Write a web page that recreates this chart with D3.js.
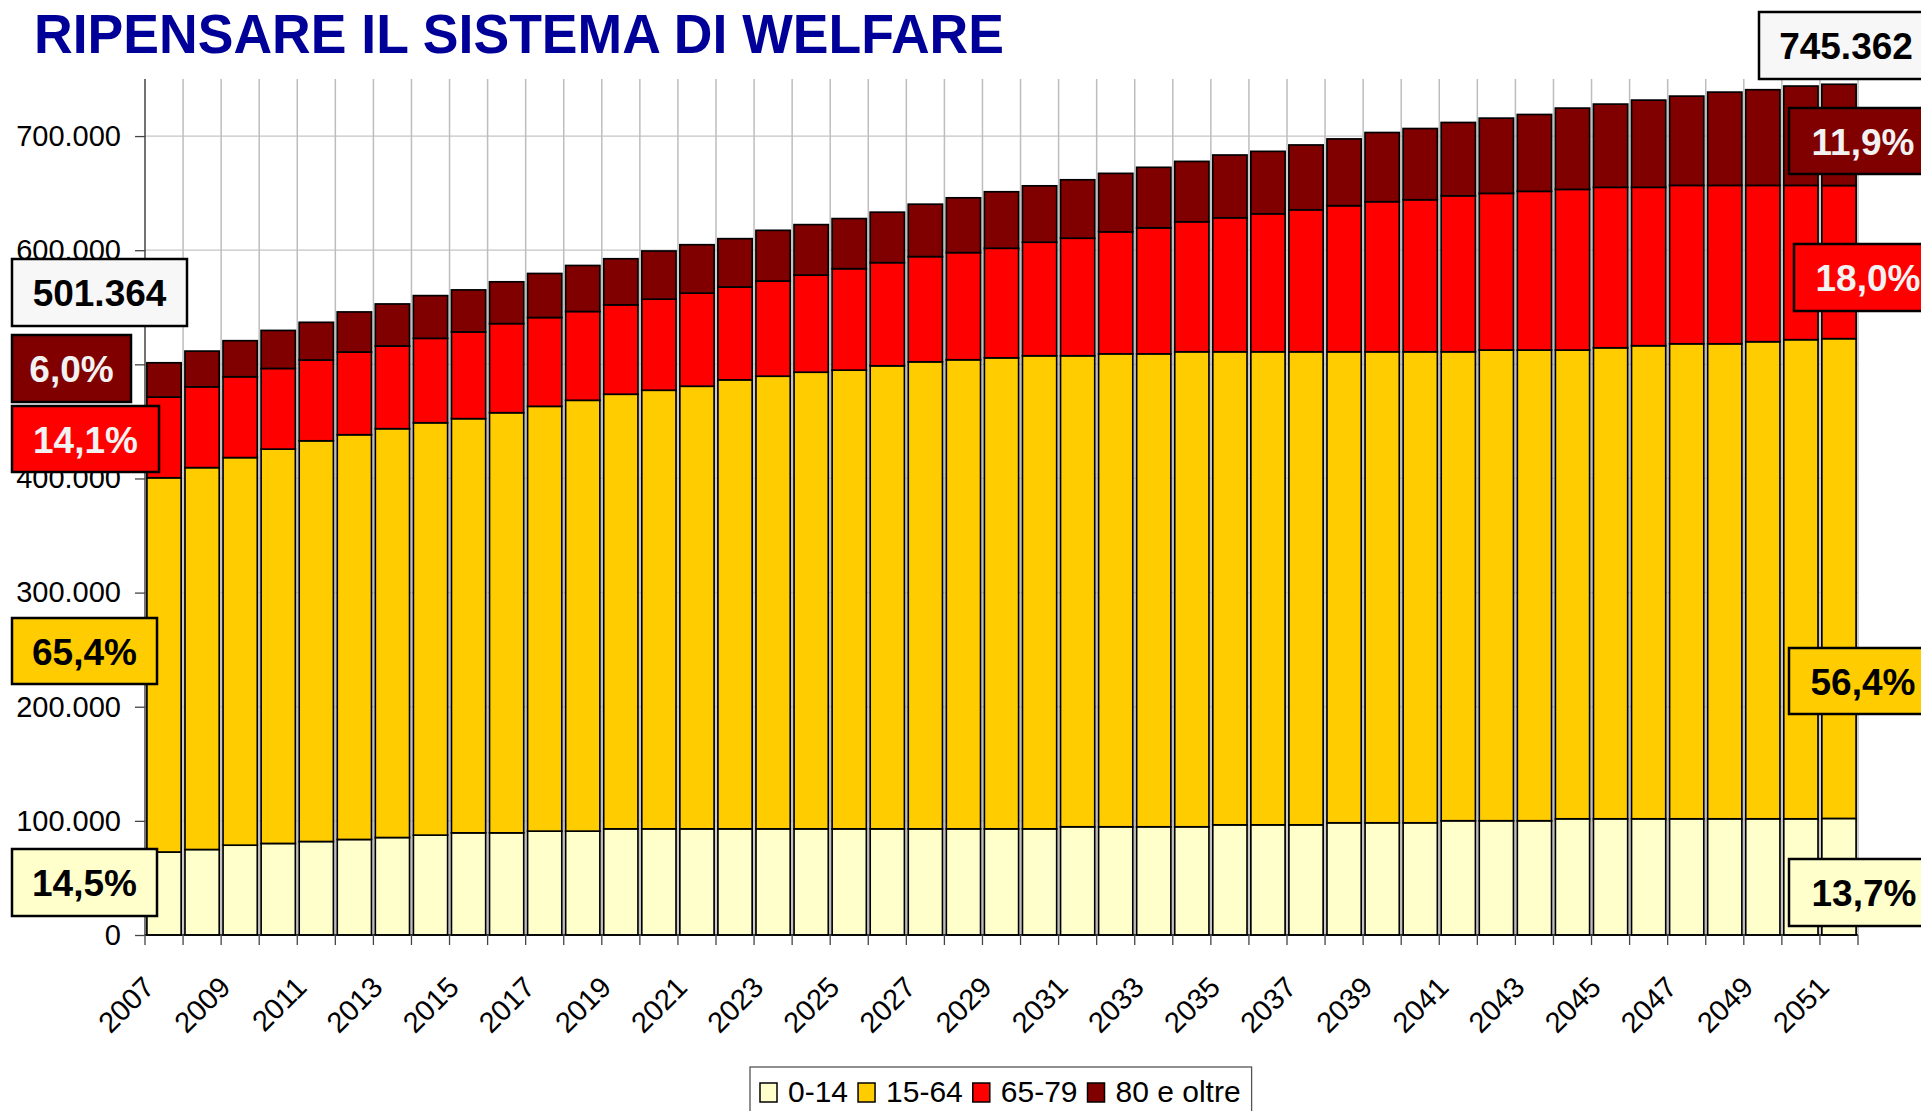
<!DOCTYPE html>
<html>
<head>
<meta charset="utf-8">
<script src="https://cdn.jsdelivr.net/npm/d3@7"></script>
<style>
html,body{margin:0;padding:0;background:#fff;overflow:hidden;}
svg{display:block;font-family:"Liberation Sans",Arial,sans-serif;}
</style>
</head>
<body>
<svg id="chart" width="1921" height="1111"></svg>
<script>
const years = [2007,2008,2009,2010,2011,2012,2013,2014,2015,2016,2017,2018,2019,2020,2021,2022,2023,2024,2025,2026,2027,2028,2029,2030,2031,2032,2033,2034,2035,2036,2037,2038,2039,2040,2041,2042,2043,2044,2045,2046,2047,2048,2049,2050,2051];
const seriesNames = ["0-14","15-64","65-79","80 e oltre"];
const seriesColors = ["#FFFFCC","#FFCC00","#FF0000","#800000"];
const labelTextColors = ["#000","#000","#f2f2f2","#f2f2f2"];
const age0_14 = [72698,74900,78700,80200,81900,83700,85400,87500,89500,89500,91000,91000,93000,93000,93000,93000,93000,93000,93000,93000,93000,93000,93000,93000,94800,94800,94800,94800,96500,96500,96500,98300,98300,98300,100100,100100,100100,101800,101800,101800,101800,101800,101800,101800,102115];
const age15_64 = [327892,334600,339600,345500,351100,354600,358200,361300,362900,368100,372200,377500,380800,384300,387800,393400,396600,400100,401900,405700,409200,411000,412700,414500,412700,414400,414400,416200,414500,414500,414500,412700,412700,412700,410900,412400,412400,410700,412700,414500,416200,416200,418000,419800,420384];
const age65_79 = [70692,70800,70800,70700,70800,72500,72500,74000,76000,78100,77800,77800,78300,79800,81600,81300,83400,85100,88900,90400,92200,93900,96000,99500,103000,106900,110400,113900,117400,120900,124400,128000,131500,133200,136700,137300,139100,140800,140600,138800,138800,138800,137000,135200,134165];
const age80plus = [30082,31300,31600,33300,33000,35100,36800,37400,36800,36600,38600,40300,40400,42200,42400,42400,44400,44200,43900,44200,45900,48000,49500,49400,51200,51200,53000,52900,55000,54700,56800,58500,60600,62400,64200,65900,67300,71200,72900,76400,78200,81700,83800,87000,88698];
const yTicks = [0,100000,200000,300000,400000,500000,600000,700000];
const xLabelYears = [2007,2009,2011,2013,2015,2017,2019,2021,2023,2025,2027,2029,2031,2033,2035,2037,2039,2041,2043,2045,2047,2049,2051];
const titleText = "RIPENSARE IL SISTEMA DI WELFARE";

const series = [age0_14, age15_64, age65_79, age80plus];
const table = years.map((y,i)=>{const o={year:y}; seriesNames.forEach((n,k)=>o[n]=series[k][i]); return o;});

const it = d3.formatLocale({decimal:",",thousands:".",grouping:[3],currency:["€",""]});
const fmtInt = it.format(",d");
const fmtPct = it.format(".1%");

const svg = d3.select("#chart");
const L = 145, R = 1858, T = 79, B = 935;
const x = d3.scaleBand().domain(years).range([L,R]).paddingInner(0.1).paddingOuter(0.05);
const y = d3.scaleLinear().domain([0,750000]).range([B,T]);
const step = x.step();
const boundary = yr => x(yr) - step*x.paddingInner()/2;

// gridlines
const grid = svg.append("g");
grid.selectAll("line.h").data(yTicks.filter(d=>d>0)).join("line")
  .attr("x1",L).attr("x2",R).attr("y1",d=>y(d)).attr("y2",d=>y(d))
  .attr("stroke","#c4c4c4").attr("stroke-width",1.3);
const bounds = years.map(boundary).concat([R]);
grid.selectAll("line.v").data(bounds.slice(1)).join("line")
  .attr("x1",d=>d).attr("x2",d=>d).attr("y1",T).attr("y2",B)
  .attr("stroke","#bdbdbd").attr("stroke-width",1.5);

// bars
const stack = d3.stack().keys(seriesNames);
const stacked = stack(table);
svg.append("g").selectAll("g").data(stacked).join("g")
  .attr("fill",(d,i)=>seriesColors[i])
  .selectAll("rect").data(d=>d).join("rect")
  .attr("x",d=>x(d.data.year)).attr("width",x.bandwidth())
  .attr("y",d=>y(d[1])).attr("height",d=>y(d[0])-y(d[1]))
  .attr("stroke","#000").attr("stroke-width",1.7);

// y axis
const yAxis = d3.axisLeft(y).tickValues(yTicks).tickSize(10).tickPadding(14).tickFormat(d=>fmtInt(d));
const gy = svg.append("g").attr("transform",`translate(${L},0)`).call(yAxis);
gy.select(".domain").attr("d",`M-0,${T}V${B}`).attr("stroke","#444").attr("stroke-width",1.5);
gy.selectAll(".tick line").attr("stroke","#444").attr("stroke-width",1.3);
gy.selectAll(".tick text").attr("font-size",29).attr("fill","#000").attr("font-family","Liberation Sans, Arial, sans-serif");

// x axis
const gx = svg.append("g");
gx.append("line").attr("x1",L).attr("x2",R).attr("y1",B).attr("y2",B).attr("stroke","#000").attr("stroke-width",1.5);
gx.selectAll("line.t").data(bounds).join("line")
  .attr("x1",d=>d).attr("x2",d=>d).attr("y1",B).attr("y2",B+10)
  .attr("stroke","#444").attr("stroke-width",1.3);
gx.selectAll("text").data(xLabelYears).join("text")
  .attr("transform",d=>`translate(${x(d)+x.bandwidth()/2-8},${B+54}) rotate(-45)`)
  .attr("text-anchor","end").attr("font-size",29).attr("fill","#000")
  .text(d=>d);

// title
svg.append("text").attr("x",34).attr("y",53).attr("font-size",55).attr("font-weight","bold")
  .attr("fill","#000099").attr("textLength",970).attr("lengthAdjust","spacingAndGlyphs")
  .text(titleText);

// annotation boxes
function box(bx,by,w,h,fill,txt,tc){
  const g = svg.append("g");
  g.append("rect").attr("x",bx).attr("y",by).attr("width",w).attr("height",h)
   .attr("fill",fill).attr("stroke","#000").attr("stroke-width",2.5);
  g.append("text").attr("x",bx+w/2).attr("y",by+h/2+13.5).attr("text-anchor","middle")
   .attr("font-size",37).attr("font-weight","bold").attr("fill",tc).text(txt);
}
const first = 0, last = years.length-1;
const total = i => series.reduce((s,a)=>s+a[i],0);
const t0 = total(first), t1 = total(last);
box(12,259,175,67,"#f7f7f7",fmtInt(t0),"#000");
box(12,335,119,67,seriesColors[3],fmtPct(age80plus[first]/t0),labelTextColors[3]);
box(12,406,147,66,seriesColors[2],fmtPct(age65_79[first]/t0),labelTextColors[2]);
box(12,618,145,66,seriesColors[1],fmtPct(age15_64[first]/t0),labelTextColors[1]);
box(12,849,145,67,seriesColors[0],fmtPct(age0_14[first]/t0),labelTextColors[0]);

box(1759,12,174,67,"#f7f7f7",fmtInt(t1),"#000");
box(1789,108,148,66,seriesColors[3],fmtPct(age80plus[last]/t1),labelTextColors[3]);
box(1794,244,148,67,seriesColors[2],fmtPct(age65_79[last]/t1),labelTextColors[2]);
box(1789,648,148,66,seriesColors[1],fmtPct(age15_64[last]/t1),labelTextColors[1]);
box(1789,859,150,67,seriesColors[0],fmtPct(age0_14[last]/t1),labelTextColors[0]);

// legend
const lg = svg.append("g");
const lgRect = lg.append("rect").attr("x",750).attr("y",1067).attr("height",70).attr("fill","#fff")
  .attr("stroke","#555").attr("stroke-width",1.3);
let cx = 760;
seriesNames.forEach((n,i)=>{
  lg.append("rect").attr("x",cx).attr("y",1083).attr("width",17).attr("height",19)
    .attr("fill",seriesColors[i]).attr("stroke","#000").attr("stroke-width",1.5);
  const t = lg.append("text").attr("x",cx+28).attr("y",1102).attr("font-size",30).attr("fill","#000").text(n);
  cx = cx + 28 + t.node().getComputedTextLength() + 10;
});
lgRect.attr("width",cx - 750 + 1);
</script>
</body>
</html>
